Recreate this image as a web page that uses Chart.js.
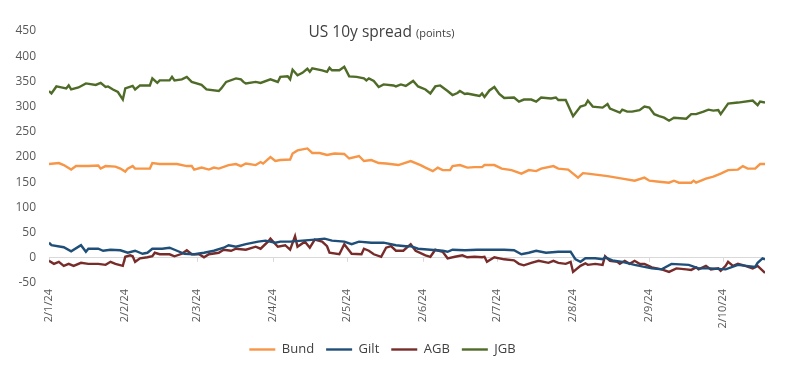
<!DOCTYPE html>
<html>
<head>
<meta charset="utf-8">
<script src="https://cdn.jsdelivr.net/npm/chart.js@4/dist/chart.umd.min.js"></script>
<style>
  body { margin: 0; background: #fff; }
  #wrap { position: relative; width: 793px; height: 375px; }
  #title { position: absolute; left: 0; width: 763px; top: 20px; text-align: center;
           font-family: "Open Sans", sans-serif; color: #404040; font-size: 15.5px; }
  #title small { font-size: 11px; }
</style>
</head>
<body>
<div id="wrap">
  <canvas id="chart" width="793" height="375"></canvas>
  <div id="title">US 10y spread <small>(points)</small></div>
</div>
<script>
// x = days since 2 Jan 2024
var tickDays = [0, 31, 60, 91, 121, 152, 182, 213, 244, 274];
var tickLabels = ["2/1/24", "2/2/24", "2/3/24", "2/4/24", "2/5/24", "2/6/24", "2/7/24", "2/8/24", "2/9/24", "2/10/24"];

var bundDays = [0,4,6,9,11,16,20,21,23,27, 29,31,32,34,35,41,42,45,50,52, 56,58,59,62,65,67,69,73,76,78,
  80,84,86,87,90,92,94,98,99,101, 105,107,110,113,116,120,122,126,128,131, 134,137,142,147,151,153,156,158,160,163,
  164,167,170,173,176,177,181,184,188,192, 195,198,200,205,207,211,213,215,217,219, 227,233,238,242,244,248,252,254,256,261,
  262,263,267,270,273,276,280,282,284,287, 289,291];
var bundVals = [186,188,184,175,182,182,183,177,182,181, 177,171,177,182,177,177,188,186,186,186, 182,182,175,179,175,179,177,184,186,182,
  187,184,190,187,200,192,194,195,207,213, 217,208,208,204,207,206,197,202,192,194, 188,187,184,192,184,179,172,179,174,174,
  182,184,179,180,180,184,184,177,174,167, 174,172,177,182,177,175,167,159,168,167, 162,157,153,159,153,151,149,153,149,149,
  153,149,157,161,167,174,175,182,177,177, 186,186];

var giltDays = [0,1,6,9,13,15,16,20,22,25, 29,32,35,38,40,42,46,49,52,55, 59,63,67,71,73,76,80,85,88,92,
  94,98,103,108,112,115,120,123,126,131, 136,141,145,147,150,155,160,162,164,169, 174,180,185,189,192,195,198,202,207,212,
  214,216,218,222,225,226,229,233,238,242, 245,249,253,260,264,269,275,280,287,288, 290,291];
var giltVals = [30,25,21,13,25,12,18,18,14,16, 15,10,14,8,10,18,18,20,14,8, 7,10,14,20,25,22,27,32,34,30,
  32,32,34,36,38,34,32,27,32,30, 30,25,23,23,18,16,14,12,16,15, 16,16,16,15,7,10,14,10,12,12,
  -3,-8,-1,-1,-3,1,-5,-8,-14,-18, -21,-23,-12,-14,-21,-21,-23,-14,-18,-10, -1,-3];

var agbDays = [0,2,4,6,8,10,13,16,20,23, 25,27,30,31,33,34,35,37,40,42, 43,45,49,51,54,56,58,61,63,65,
  69,71,74,76,80,84,86,89,90,93, 96,98,100,101,104,106,108,111,113,114, 118,120,123,127,128,130,132,135,137,139,
  141,144,147,149,153,155,157,160,162,165, 168,170,173,176,177,178,181,185,189,191, 193,196,199,203,205,207,210,212,213,216,
  218,219,222,225,226,228,231,232,234,236, 238,240,242,245,249,252,255,259,261,263, 264,267,269,272,273,275,276,278,280,283,
  286,288,291];
var agbVals = [-6,-12,-8,-16,-12,-16,-10,-12,-12,-14, -8,-12,-16,2,5,3,-8,-1,1,3, 10,7,7,3,8,15,7,7,1,7,
  10,16,14,18,16,22,18,32,38,22, 25,16,43,22,32,20,36,32,23,10, 7,27,8,7,18,14,7,2,20,23,
  14,14,27,14,5,2,16,12,-1,2, 5,1,2,1,2,-8,1,-3,-5,-12, -15,-10,-6,-10,-6,-10,-12,-8,-28,-16,
  -11,-14,-12,-14,3,-6,-8,-12,-6,-12, -6,-12,-12,-19,-23,-28,-21,-23,-24,-19, -23,-16,-23,-21,-26,-16,-8,-16,-12,-16,
  -21,-16,-30];

var jgbDays = [0,1,3,5,7,8,9,12,15,19, 21,23,24,26,28,30,31,34,35,37, 41,42,44,45,49,50,51,54,56,58,
  62,64,69,70,72,76,78,79,80,84, 86,90,93,94,97,98,99,101,103,105, 106,107,111,113,114,115,118,120,122,125,
  128,129,130,132,134,136,140,141,143,145, 148,150,153,155,157,159,162,164,166,167, 169,170,173,175,176,177,179,181,183,185,
  189,191,193,196,198,200,204,206,207,210, 213,216,218,219,221,225,227,228,232,233, 235,237,240,242,244,246,248,250,252,254,
  259,261,263,266,268,270,272,273,276,280, 286,288,289,291];
var jgbVals = [331,326,340,338,336,342,334,338,346,343, 347,339,340,334,329,314,336,341,334,342, 342,356,347,352,352,359,352,354,359,349,
  343,334,331,336,349,356,354,349,346,349, 347,354,349,359,360,354,373,362,367,375, 369,376,372,369,377,372,372,379,360,359,
  356,352,356,351,339,344,342,340,344,341, 351,340,334,326,340,342,331,323,327,331, 325,326,323,321,326,319,332,339,325,317,
  318,310,314,314,310,318,316,318,313,313, 281,300,303,312,300,298,305,296,288,294, 290,290,293,300,298,285,281,278,272,278,
  276,285,285,290,294,292,293,285,306,308, 312,303,310,308];

function points(days, vals) {
  return days.map(function (d, i) { return { x: d, y: vals[i] }; });
}

function series(label, days, vals, color) {
  return {
    label: label,
    data: points(days, vals),
    borderColor: color,
    backgroundColor: color,
    borderWidth: 2.4,
    pointRadius: 0,
    tension: 0
  };
}

// small tick marks hanging off the zero line, like the original
var zeroTicks = {
  id: "zeroTicks",
  beforeDatasetsDraw: function (chart) {
    var ctx = chart.ctx, x = chart.scales.x, y0 = chart.scales.y.getPixelForValue(0);
    ctx.save();
    ctx.strokeStyle = "#d9d9d9";
    ctx.lineWidth = 1;
    x.ticks.forEach(function (t) {
      var px = Math.round(x.getPixelForValue(t.value)) + 0.5;
      ctx.beginPath();
      ctx.moveTo(px, y0);
      ctx.lineTo(px, y0 + 4);
      ctx.stroke();
    });
    ctx.restore();
  }
};

Chart.defaults.font.family = "'Open Sans', sans-serif";
Chart.defaults.color = "#595959";

new Chart(document.getElementById("chart"), {
  type: "line",
  data: {
    datasets: [
      series("Bund", bundDays, bundVals, "#F79646"),
      series("Gilt", giltDays, giltVals, "#1F4E79"),
      series("AGB", agbDays, agbVals, "#772C2A"),
      series("JGB", jgbDays, jgbVals, "#4F6B28")
    ]
  },
  options: {
    responsive: false,
    devicePixelRatio: 1,
    animation: false,
    layout: { padding: { top: 31, right: 28, bottom: 9, left: 0 } },
    plugins: {
      title: { display: false },
      tooltip: { enabled: false },
      legend: {
        position: "bottom",
        labels: {
          usePointStyle: true,
          pointStyle: "line",
          pointStyleWidth: 26,
          padding: 12,
          color: "#404040",
          font: { size: 13 }
        }
      }
    },
    scales: {
      x: {
        type: "linear",
        min: 0,
        max: 291,
        border: { display: false },
        grid: { display: false, drawTicks: false },
        afterBuildTicks: function (scale) {
          scale.ticks = tickDays.map(function (d) { return { value: d }; });
        },
        afterFit: function (scale) { scale.height = 48; },
        ticks: {
          autoSkip: false,
          maxRotation: 90,
          minRotation: 90,
          padding: 6,
          font: { size: 11 },
          callback: function (v) { return tickLabels[tickDays.indexOf(v)]; }
        }
      },
      y: {
        min: -50,
        max: 450,
        border: { display: false },
        grid: {
          drawTicks: false,
          color: function (c) { return c.tick && c.tick.value === 0 ? "#d9d9d9" : "rgba(0,0,0,0)"; }
        },
        afterFit: function (scale) { scale.width = 49; },
        ticks: { stepSize: 50, padding: 13, font: { size: 12 } }
      }
    }
  },
  plugins: [zeroTicks]
});
</script>
</body>
</html>
